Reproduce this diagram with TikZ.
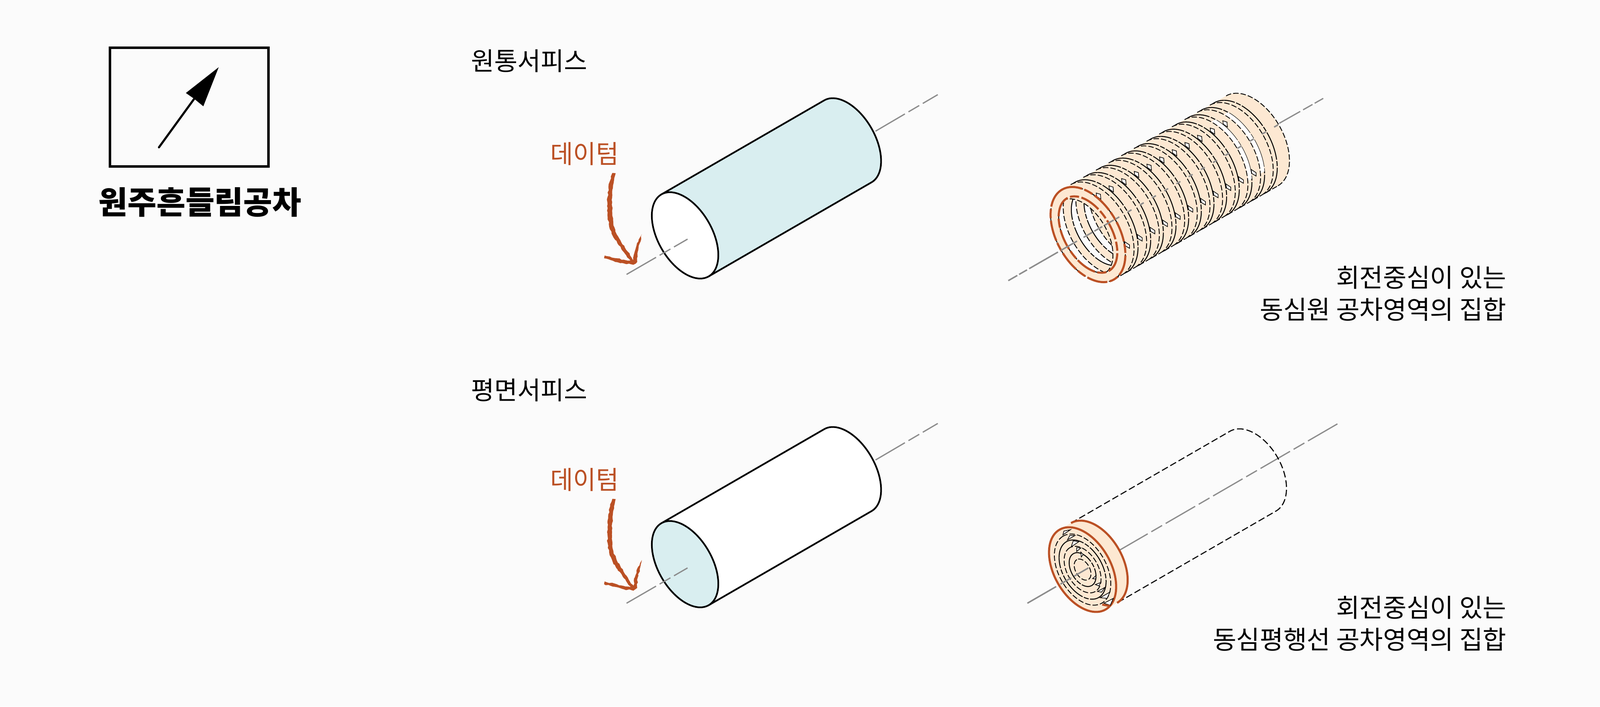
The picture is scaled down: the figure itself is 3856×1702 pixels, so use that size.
\documentclass[tikz,border=0pt]{standalone}
\usepackage{fontspec}
\setmainfont{Noto Sans CJK KR}
\usetikzlibrary{decorations.pathmorphing}
\definecolor{bgc}{HTML}{FBFBFB}
\definecolor{bluef}{HTML}{D9EEF0}
\definecolor{tanf}{HTML}{FDE8D2}
\definecolor{orng}{HTML}{BB5024}
\definecolor{axisc}{HTML}{8C8C8C}
\tikzset{
  axisline/.style={draw=axisc,line width=0.03cm,dash pattern=on .82cm off .1cm on .3cm off .1cm},
  cylline/.style={draw=black,line width=0.04cm,line join=round},
  solidc/.style={draw=black,line width=0.022cm,dash pattern=on .7cm off .035cm on .12cm off .035cm},
  dashc/.style={draw=black,line width=0.02cm,dash pattern=on .13cm off .05cm},
  orngline/.style={draw=orng,line width=0.05cm,dash pattern=on .5cm off .06cm on .22cm off .06cm},
  orngsolid/.style={draw=orng,line width=0.05cm,line join=round},
  ghost/.style={draw=black,line width=0.025cm,dash pattern=on .16cm off .07cm},
  sliver/.style={fill=white,draw=black,line width=0.015cm},
  rough/.style={fill=orng,decorate,decoration={random steps,segment length=1.6pt,amplitude=.45pt}},
  lab/.style={font=\fontsize{17.3pt}{21pt}\selectfont,inner sep=0pt},
  caplab/.style={font=\fontsize{17.5pt}{21pt}\selectfont,inner sep=0pt},
  datumtxt/.style={font=\fontsize{17.5pt}{21pt}\selectfont,inner sep=0pt,text=orng,xscale=.97},
}
\def\Ao{125}\def\Bo{75}\def\Ai{101}\def\Bi{57}\def\He{12}
\pgfmathsetmacro\TA{asin(\He/2/\Bi)}
\pgfmathsetmacro\TB{180-\TA}
\pgfmathsetmacro\TC{180+\TA}
\pgfmathsetmacro\TD{360-\TA}
\pgfmathsetmacro\Sx{\Ai*cos(\TA)}
\pgfmathsetmacro\Sy{\He/2}
\newcommand{\CoilRing}[2]{%
  \begin{scope}[shift={({2622+#1*30.5},{-565+#1*17.4})},rotate=120]
    \fill[tanf,even odd rule]
      (\Ao,0) arc[start angle=0,end angle=180,x radius=\Ao,y radius=\Bo]
      -- (-\Ao,-#2) arc[start angle=180,end angle=360,x radius=\Ao,y radius=\Bo] -- cycle
      (\Sx,\Sy) arc[start angle=\TA,end angle=\TB,x radius=\Ai,y radius=\Bi]
      arc[start angle=\TC,end angle=\TD,x radius=\Ai,y radius=\Bi] -- cycle;
    \path[dashc] (\Ao,0) arc[start angle=0,end angle=180,x radius=\Ao,y radius=\Bo];
    \path[solidc] (-\Ao,0) arc[start angle=180,end angle=360,x radius=\Ao,y radius=\Bo];
    \path[dashc] (-\Ao,-#2) arc[start angle=180,end angle=360,x radius=\Ao,y radius=\Bo];
    \path[dashc] (-\Ao,0) -- (-\Ao,-#2);
    \path[solidc] (\Sx,\Sy) arc[start angle=\TA,end angle=\TB,x radius=\Ai,y radius=\Bi];
    \path[dashc] (-\Sx,\Sy) arc[start angle=\TC,end angle=\TD,x radius=\Ai,y radius=\Bi];
  \end{scope}}
\newcommand{\Cylinder}[3]{%
  \begin{scope}[shift={(1651,{-567-#1})},rotate=120]
    \filldraw[cylline,fill=#2] (114,0) -- (114,-453)
      arc[start angle=0,end angle=-180,x radius=114,y radius=65] -- (-114,0) -- cycle;
    \filldraw[cylline,fill=#3] (0,0) ellipse[x radius=114,y radius=65];
  \end{scope}}
\newcommand{\DatumArrow}[1]{%
  \begin{scope}[shift={(1300,{-320-#1})},x=0.003333cm,y=-0.003333cm]
    \path[rough] (528,290) -- (552,292) -- (540,345) -- (532,400) -- (527,465) -- (526,530) -- (528,600) -- (536,670) -- (560,735) -- (592,790) -- (640,860) -- (682,925) -- (660,925) -- (612,865) -- (565,800) -- (530,745) -- (505,680) -- (494,610) -- (490,530) -- (493,465) -- (500,400) -- (512,345) -- (528,290);
    \path[rough] (742,733) -- (726,800) -- (712,860) -- (708,935) -- (680,955) -- (600,942) -- (530,925) -- (468,908) -- (472,888) -- (560,908) -- (640,925) -- (680,920) -- (690,860) -- (706,800) -- (742,733);
  \end{scope}}
\begin{document}
\begin{tikzpicture}[x=0.01cm,y=0.01cm]
\useasboundingbox (0,0) rectangle (3856,1702);
\fill[bgc] (0,0) rectangle (3856,1702);
\begin{scope}[shift={(0,1702)}]
% symbol
\draw[line width=0.056cm] (265,-115) rectangle (647,-401);
\draw[line width=0.05cm,line cap=round] (383,-355) -- (468,-238);
\fill (527,-162) -- (448,-224) -- (468,-238) -- (490,-256) -- cycle;
\node[lab,anchor=base,font=\fontsize{21.6pt}{25pt}\selectfont\bfseries] (title) at (482,-516) {원주흔들림공차};
% headings
\node[lab,anchor=base west] (head1) at (1135,-170) {원통서피스};
\node[lab,anchor=base west] (head2) at (1135,-963) {평면서피스};
% left cylinders
\path[axisline] (2110,-316) -- (2260,-228);
\path[axisline] (2110,-1108) -- (2260,-1020);
\Cylinder{0}{bluef}{white}
\Cylinder{792}{white}{bluef}
\path[axisline] (1510,-661) -- (1657,-576);
\path[axisline] (1510,-1453) -- (1657,-1368);
\node[datumtxt,anchor=base] (dat1) at (1409,-394) {데이텀};
\node[datumtxt,anchor=base] (dat2) at (1409,-1179) {데이텀};
\DatumArrow{0}
\DatumArrow{785}
% coil
\CoilRing{12}{34}
\foreach \k in {11,10,...,0}{\CoilRing{\k}{24}}
\foreach \k in {0,...,10}{
  \filldraw[sliver,shift={({2647+30.5*\k},{-470+17.4*\k})}] (-5,5) -- (5,2) -- (6,-10) -- (-4,-3) -- cycle;
  \filldraw[sliver,shift={({2717+30.5*\k},{-590+17.4*\k})}] (-7,8) -- (5,0) -- (5,-8) -- (-5,-2) -- cycle;
}
\foreach \k in {10,11}{
  \begin{scope}[shift={({2622+\k*30.5},{-565+\k*17.4})},rotate=120]
    \fill[white] (231:125 and 75) arc[start angle=231,end angle=315,x radius=125,y radius=75]
      -- ++(0,10) arc[start angle=315,end angle=231,x radius=125,y radius=75] -- cycle;
  \end{scope}
}
\begin{scope}[shift={(2622,-565)},rotate=120]
  \path[orngline] (0,0) ellipse[x radius=125,y radius=75];
  \path[orngline] (0,0) ellipse[x radius=101,y radius=57];
\end{scope}
\draw[axisc,line width=0.035cm,dash pattern=on .25cm off .05cm on .22cm off .06cm on .8cm off .08cm on .45cm off .18cm] (2430,-676) -- (2684,-530);
\draw[axisc,line width=0.035cm,dash pattern=on .11cm off .23cm] (2688,-528) -- (3083,-299);
\draw[axisc,line width=0.03cm,dash pattern=on .58cm off .08cm on .26cm off .06cm] (3083,-297) -- (3189,-237);
% ghost cylinder with flat tolerance
\path[axisline] (2695,-1327) -- (3225,-1020);
\begin{scope}[shift={(2609,-1372)},rotate=120]
  \path[ghost] (111,-32) -- (111,-474) arc[start angle=0,end angle=-180,x radius=111,y radius=68] -- (-111,-32);
  \fill[tanf] (111,0) arc[start angle=0,end angle=180,x radius=111,y radius=68]
    -- (-111,-32) arc[start angle=180,end angle=360,x radius=111,y radius=68] -- cycle;
  \path[orngsolid] (-111,-32) arc[start angle=180,end angle=360,x radius=111,y radius=68];
  \path[orngsolid] (0,0) ellipse[x radius=111,y radius=68];
  \foreach \s/\st in {.84/dashc,.70/solidc,.55/dashc,.40/solidc,.25/dashc}{
    \pgfmathsetmacro\ra{111*\s}\pgfmathsetmacro\rb{68*\s}
    \path[\st] (0,0) ellipse[x radius=\ra,y radius=\rb];
  }
\end{scope}
\begin{scope}[shift={(2500,-1240)},x=0.003333cm,y=-0.003333cm]
  \foreach \tri in {{(185,145) -- (240,108) -- (192,118)},{(218,182) -- (272,150) -- (235,150)},{(245,232) -- (300,195) -- (260,188)},{(285,265) -- (315,240) -- (285,238)},{(318,305) -- (332,288) -- (315,270)},{(482,640) -- (550,605) -- (528,655)},{(455,600) -- (525,560) -- (505,605)},{(435,555) -- (490,525) -- (465,560)},{(420,505) -- (460,490) -- (445,515)},{(400,462) -- (425,440) -- (422,465)}}{
    \filldraw[sliver] \tri -- cycle;
  }
  \draw[orng,line width=0.05cm] (470,650) -- (525,660);
\end{scope}
\draw[axisc,line width=0.035cm,dash pattern=on .8cm off .12cm on .3cm off .08cm] (2476,-1453) -- (2623,-1368);
% captions
\node[caplab,anchor=base east] (cap1a) at (3631,-692) {회전중심이 있는};
\node[caplab,anchor=base east] (cap1b) at (3631,-769) {동심원 공차영역의 집합};
\node[caplab,anchor=base east] (cap2a) at (3631,-1486) {회전중심이 있는};
\node[caplab,anchor=base east] (cap2b) at (3631,-1563) {동심평행선 공차영역의 집합};
\end{scope}
\end{tikzpicture}
\end{document}
